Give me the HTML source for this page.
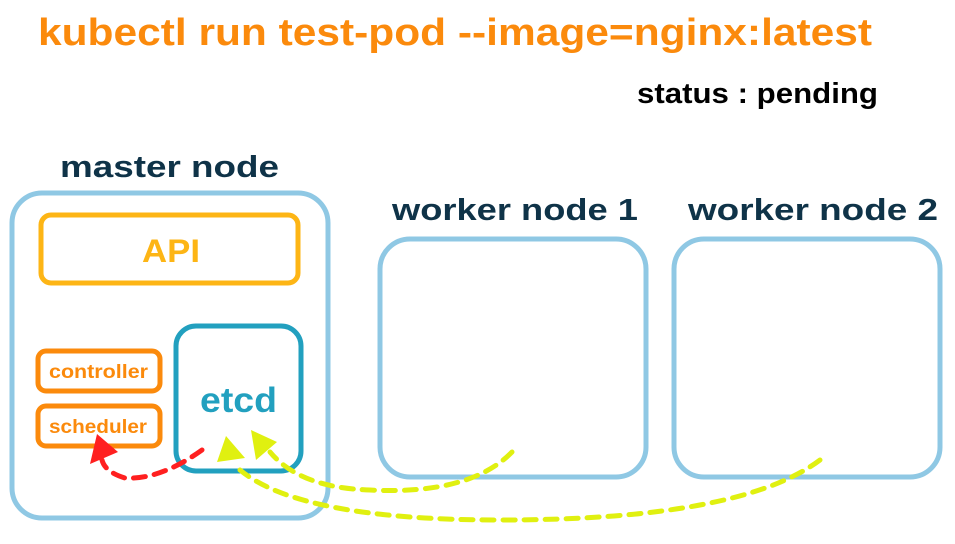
<!DOCTYPE html>
<html><head><style>
body{margin:0;width:955px;height:539px;background:#fff;overflow:hidden;font-family:"Liberation Sans",sans-serif;}
</style></head><body>
<svg width="955" height="539" xmlns="http://www.w3.org/2000/svg" font-family="Liberation Sans, sans-serif" font-weight="bold">
<text x="38" y="45" font-size="38" fill="#fb8a0c" textLength="834" lengthAdjust="spacingAndGlyphs">kubectl run test-pod --image=nginx:latest</text>
<text x="637" y="103" font-size="29" fill="#000" textLength="241" lengthAdjust="spacingAndGlyphs">status : pending</text>
<text x="60" y="177" font-size="31" fill="#0f3348" textLength="219" lengthAdjust="spacingAndGlyphs">master node</text>
<text x="392" y="220" font-size="31" fill="#0f3348" textLength="246" lengthAdjust="spacingAndGlyphs">worker node 1</text>
<text x="688" y="220" font-size="31" fill="#0f3348" textLength="250" lengthAdjust="spacingAndGlyphs">worker node 2</text>
<rect x="12" y="193" width="316" height="325" rx="30" fill="none" stroke="#8fc8e4" stroke-width="5"/>
<rect x="380" y="239" width="266" height="238" rx="30" fill="none" stroke="#8fc8e4" stroke-width="5"/>
<rect x="674" y="239" width="266" height="238" rx="30" fill="none" stroke="#8fc8e4" stroke-width="5"/>
<rect x="41" y="215" width="257" height="68" rx="10" fill="none" stroke="#fdb515" stroke-width="5"/>
<text x="142" y="262" font-size="32" fill="#fdb515" textLength="58" lengthAdjust="spacingAndGlyphs">API</text>
<rect x="38" y="351" width="122" height="40" rx="8" fill="none" stroke="#fb8a0c" stroke-width="5"/>
<text x="49" y="378" font-size="19" fill="#fb8a0c" textLength="99" lengthAdjust="spacingAndGlyphs">controller</text>
<rect x="38" y="406" width="122" height="40" rx="8" fill="none" stroke="#fb8a0c" stroke-width="5"/>
<text x="49" y="433" font-size="19" fill="#fb8a0c" textLength="98" lengthAdjust="spacingAndGlyphs">scheduler</text>
<rect x="176" y="326" width="125" height="145" rx="20" fill="none" stroke="#22a0bf" stroke-width="5"/>
<text x="200" y="412" font-size="35" fill="#22a0bf" textLength="77" lengthAdjust="spacingAndGlyphs">etcd</text>
<g fill="none" stroke-width="5" stroke-dasharray="12,9" stroke-linecap="round">
<path d="M202 450 Q160 480 125 478 Q105 472 102 460" stroke="#ff2020"/>
<path d="M512 452 Q470 495 370 490 Q300 488 270 452" stroke="#e0f010"/>
<path d="M820 460 Q740 520 500 520 Q300 520 240 470" stroke="#e0f010"/>
</g>
<polygon points="97,434 118,452 90,464" fill="#ff2020"/>
<polygon points="226,436 245,458 217,462" fill="#e0f010"/>
<polygon points="251,430 277,442 256,460" fill="#e0f010"/>
</svg>
</body></html>
